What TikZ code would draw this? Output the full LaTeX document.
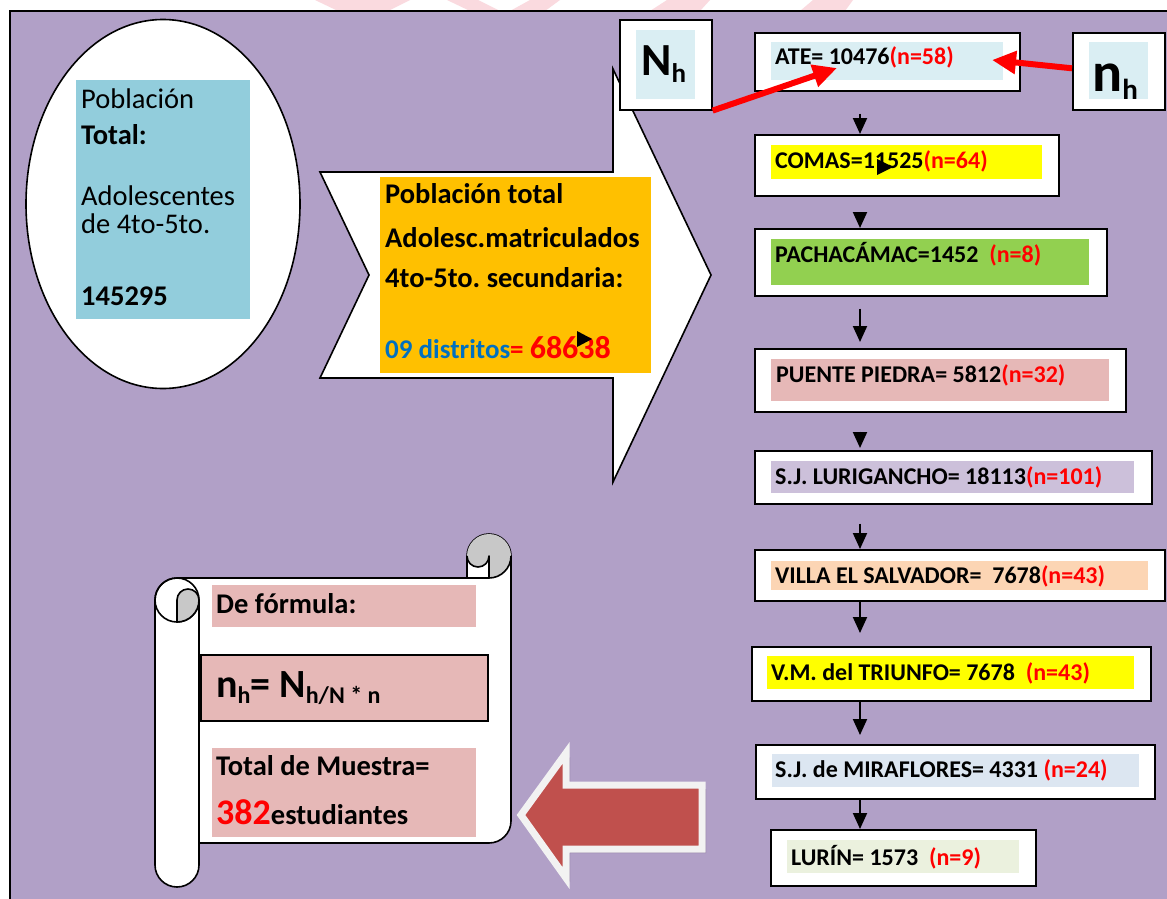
\documentclass[tikz,border=0pt]{standalone}
\usepackage{fontspec}
\setmainfont{Carlito}
\usetikzlibrary{arrows.meta,shapes.geometric}
\frenchspacing

\definecolor{fondo}{HTML}{B1A0C7}
\definecolor{celeste}{HTML}{92CDDC}
\definecolor{naranja}{HTML}{FFC000}
\definecolor{hielo}{HTML}{DAEEF3}
\definecolor{amarillo}{HTML}{FFFF00}
\definecolor{verde}{HTML}{92D050}
\definecolor{rosa}{HTML}{E6B8B7}
\definecolor{lila}{HTML}{CCC0DA}
\definecolor{durazno}{HTML}{FCD5B4}
\definecolor{grisazul}{HTML}{DCE6F1}
\definecolor{verdeclaro}{HTML}{EBF1DE}
\definecolor{azul}{HTML}{0070C0}
\definecolor{rojo}{HTML}{FF0000}
\definecolor{ladrillo}{HTML}{C0504D}
\definecolor{borde}{HTML}{F2F2F2}
\definecolor{sombra}{HTML}{8E7AA0}
\definecolor{gris}{HTML}{C8C8C8}
\definecolor{marca}{HTML}{FADADF}

\tikzset{
  caja/.style={draw=black, fill=white, line width=1.6pt, inner sep=0pt, anchor=north west},
  etiqueta/.style={anchor=base west, inner sep=0pt, font=\fontsize{24}{28}\selectfont\bfseries},
  texto/.style={anchor=base west, inner sep=0pt, font=\fontsize{28.5}{34}\selectfont},
  flecha/.style={line width=2pt, -{Triangle[width=14pt,length=16pt]}},
  flecharoja/.style={draw=rojo, line width=6pt, -{Triangle[width=22pt,length=24pt]}},
  rollo/.style={draw=black, line width=1.6pt, line join=round}
}

\begin{document}
\begin{tikzpicture}[x=1pt,y=-1pt]
\useasboundingbox (0,0) rectangle (1167,899);
% fondo
\fill[white] (0,0) rectangle (1167,899);
\fill[marca] (315,0) -- (410,0) -- (388,11) -- (338,11) -- cycle;
\fill[marca] (447,0) -- (478,0) -- (500,11) -- (470,11) -- cycle;
\fill[marca] (530,0) -- (560,0) -- (545,11) -- (510,11) -- cycle;
\fill[marca] (667,0) -- (710,0) -- (700,11) -- (650,11) -- cycle;
\fill[marca] (813,0) -- (853,0) -- (845,11) -- (800,11) -- cycle;
\fill[fondo] (10,11) rectangle (1167,899);
\draw[line width=2pt] (10,899) -- (10,11) -- (1167,11);

% poblacion total
\node[draw=black, fill=white, ellipse, line width=1.6pt, inner sep=0pt,
      minimum width=274pt, minimum height=369pt] (elipse) at (163,204) {};
\fill[celeste] (76,80) rectangle (250,319);
\node[texto] (pob1) at (81,108) {Población};
\node[texto] (pob2) at (81,144) {\textbf{Total:}};
\node[texto] (pob3) at (81,205) {Adolescentes};
\node[texto] (pob4) at (81,233) {de 4to-5to.};
\node[texto] (pob5) at (81,305) {\textbf{145295}};

% flecha grande
\draw[fill=white, line width=1.6pt, line join=miter]
  (320,172) -- (613,172) -- (613,69) -- (711,275) -- (613,482) -- (613,378)
  -- (320,378) -- (369,275) -- cycle;
\fill[naranja] (380,177) rectangle (651,373);
\node[texto, font=\fontsize{28.5}{34}\selectfont\bfseries] (tot1) at (385,203) {Población total};
\node[texto, font=\fontsize{28.5}{34}\selectfont\bfseries] (tot2) at (385,247) {Adolesc.matriculados};
\node[texto, font=\fontsize{28.5}{34}\selectfont\bfseries] (tot3) at (385,287) {4to-5to. secundaria:};
\node[texto, font=\fontsize{27}{34}\selectfont\bfseries] (tot4) at (385,358)
  {\textcolor{azul}{09 distritos}\textcolor{rojo}{= {\fontsize{32}{36}\selectfont 68638}}};
\fill[black] (577,331) -- (592,339) -- (577,347) -- cycle;

% N_h y n_h
\node[caja, minimum width=92pt, minimum height=90pt] (Nh) at (619,19) {};
\fill[hielo] (636,30) rectangle (695,99);
\node[anchor=base west, inner sep=0pt, font=\fontsize{46}{50}\selectfont\bfseries] (Ntxt) at (641,76)
  {N\raisebox{-6pt}{\fontsize{27}{30}\selectfont h}};
\node[caja, minimum width=92pt, minimum height=77pt] (nh) at (1072,32) {};
\fill[hielo] (1089,42) rectangle (1148,99);
\node[anchor=base west, inner sep=0pt, font=\fontsize{56}{60}\selectfont\bfseries] (ntxt) at (1092,92)
  {n\raisebox{-8pt}{\fontsize{29}{30}\selectfont h}};

% distritos
\node[caja, minimum width=265pt, minimum height=58pt] (ate) at (754,32) {};
\fill[hielo] (771,42) rectangle (1003,80);
\node[etiqueta] (atetxt) at (775,65) {ATE= 10476\textcolor{rojo}{(n=58)}};

\node[caja, minimum width=304pt, minimum height=61pt] (comas) at (754,134) {};
\fill[amarillo] (771,145) rectangle (1042,179);
\node[etiqueta] (comastxt) at (775,168) {COMAS=11525\textcolor{rojo}{(n=64)}};
\fill[black] (877,159) -- (893,167) -- (877,175) -- cycle;

\node[caja, minimum width=352pt, minimum height=67pt] (pacha) at (754,228) {};
\fill[verde] (771,239) rectangle (1089,285);
\node[etiqueta] (pachatxt) at (775,262) {PACHACÁMAC=1452\ \ \textcolor{rojo}{(n=8)}};

\node[caja, minimum width=371pt, minimum height=63pt] (puente) at (754,348) {};
\fill[rosa] (771,359) rectangle (1109,401);
\node[etiqueta] (puentetxt) at (776,382) {PUENTE PIEDRA= 5812\textcolor{rojo}{(n=32)}};

\node[caja, minimum width=397pt, minimum height=53pt] (sjl) at (754,450) {};
\fill[lila] (771,461) rectangle (1134,493);
\node[etiqueta] (sjltxt) at (775,484) {S.J. LURIGANCHO= 18113\textcolor{rojo}{(n=101)}};

\node[caja, minimum width=410pt, minimum height=51pt] (villa) at (754,549) {};
\fill[durazno] (771,561) rectangle (1148,590);
\node[etiqueta] (villatxt) at (775,583) {VILLA EL SALVADOR=\ \ 7678\textcolor{rojo}{(n=43)}};

\node[caja, minimum width=399pt, minimum height=54pt] (vm) at (751,646) {};
\fill[amarillo] (767,656) rectangle (1134,689);
\node[etiqueta] (vmtxt) at (771,680) {V.M. del TRIUNFO= 7678\ \ \textcolor{rojo}{(n=43)}};

\node[caja, minimum width=399pt, minimum height=54pt] (sjm) at (755,744) {};
\fill[grisazul] (772,754) rectangle (1139,787);
\node[etiqueta] (sjmtxt) at (775,777) {S.J. de MIRAFLORES= 4331 \textcolor{rojo}{(n=24)}};

\node[caja, minimum width=265pt, minimum height=56pt] (lurin) at (770,829) {};
\fill[verdeclaro] (787,840) rectangle (1019,873);
\node[etiqueta] (lurintxt) at (791,865) {LURÍN= 1573\ \ \textcolor{rojo}{(n=9)}};

% flechas del flujo
\coordinate (eje) at (860,0);
\draw[flecha, shorten <=22pt] (ate.south -| eje) -- (comas.north -| eje);
\draw[flecha, shorten <=18pt] (comas.south -| eje) -- (pacha.north -| eje);
\draw[flecha, shorten <=12pt, shorten >=6pt] (pacha.south -| eje) -- (puente.north -| eje);
\draw[flecha, shorten <=19pt, shorten >=2pt] (puente.south -| eje) -- (sjl.north -| eje);
\draw[flecha, shorten <=19pt] (sjl.south -| eje) -- (villa.north -| eje);
\draw[flecha, shorten >=13pt] (villa.south -| eje) -- (vm.north -| eje);
\draw[flecha, shorten >=9pt] (vm.south -| eje) -- (sjm.north -| eje);
\draw[flecha] (sjm.south -| eje) -- (lurin.north -| eje);

% flechas rojas
\coordinate (puntaN) at (837,68);
\coordinate (puntan) at (992,60);
\draw[flecharoja] (Nh.south east) -- (puntaN);
\draw[flecharoja] ([yshift=3pt]nh.west) -- (puntan);

% pergamino
\draw[rollo, fill=white] (155,600) arc[start angle=180, end angle=90, radius=22pt]
  -- (467,578) -- (467,556) arc[start angle=180, end angle=0, radius=22pt]
  -- (511,821) arc[start angle=0, end angle=-90, radius=22pt]
  -- (199,843) -- (199,865) arc[start angle=0, end angle=-180, radius=22pt] -- cycle;
\fill[gris] (467,556) arc[start angle=180, end angle=-90, radius=22pt]
  -- (489,556) arc[start angle=0, end angle=-180, radius=11pt] -- cycle;
\draw[rollo] (467,578) -- (489,578) arc[start angle=-90, end angle=0, radius=22pt];
\draw[rollo] (489,578) -- (489,556) arc[start angle=0, end angle=-180, radius=11pt];
\draw[rollo] (177,600) circle[radius=22pt];
\draw[rollo, fill=gris] (177,622) -- (177,600) arc[start angle=180, end angle=0, radius=11pt]
  arc[start angle=0, end angle=-90, radius=22pt] -- cycle;
\draw[rollo] (199,600) -- (199,843);

\fill[rosa] (212,585) rectangle (476,627);
\node[texto, font=\fontsize{28.5}{34}\selectfont\bfseries] (formula1) at (216,613) {De fórmula:};
\node[draw=black, fill=rosa, line width=1.6pt, anchor=north west, inner sep=0pt,
      minimum width=287pt, minimum height=66pt] (formulabox) at (200,654) {};
\node[anchor=base west, inner sep=0pt, font=\fontsize{40}{44}\selectfont\bfseries] (formula2) at (216,697)
  {n\raisebox{-6pt}{\fontsize{24}{26}\selectfont h}= N\raisebox{-6pt}{\fontsize{24}{26}\selectfont h/N * n}};
\fill[rosa] (212,748) rectangle (476,837);
\node[texto, font=\fontsize{28.5}{34}\selectfont\bfseries] (muestra1) at (216,775) {Total de Muestra=};
\node[texto, font=\fontsize{28.5}{34}\selectfont\bfseries] (muestra2) at (216,824)
  {\textcolor{rojo}{\fontsize{36}{40}\selectfont 382}estudiantes};

% flecha de regreso
\fill[sombra] (525,819) -- (570,757) -- (570,789) -- (706,789) -- (706,853) -- (570,853) -- (570,882) -- cycle;
\draw[draw=borde, fill=ladrillo, line width=7pt, line join=miter]
  (521,815) -- (566,753) -- (566,785) -- (702,785) -- (702,849) -- (566,849) -- (566,878) -- cycle;
\end{tikzpicture}
\end{document}
